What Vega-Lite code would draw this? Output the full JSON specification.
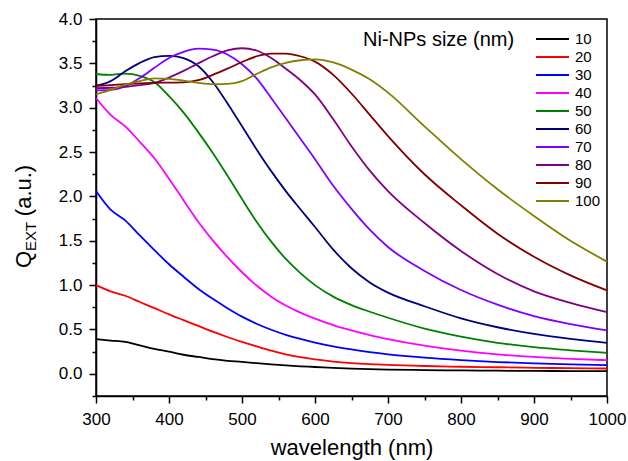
{
  "$schema": "https://vega.github.io/schema/vega-lite/v6.json",
  "width": 511,
  "height": 377,
  "autosize": "none",
  "padding": {"left": 96, "top": 19, "right": 21, "bottom": 65},
  "config": {
    "view": {"stroke": "black", "strokeWidth": 1.5},
    "font": "Liberation Sans",
    "axis": {"domainColor": "black", "tickColor": "black", "labelColor": "black", "titleColor": "black", "domainWidth": 1.5, "tickWidth": 1.5, "grid": false, "labelFont": "Liberation Sans", "titleFont": "Liberation Sans", "titleFontWeight": "normal"},
    "legend": {"labelFont": "Liberation Sans", "titleFont": "Liberation Sans"}
  },
  "datasets": {
    "spectra": [
      {"w":300,"s":10,"q":0.39},{"w":320,"s":10,"q":0.375},{"w":340,"s":10,"q":0.36},{"w":360,"s":10,"q":0.32},{"w":380,"s":10,"q":0.28},{"w":400,"s":10,"q":0.25},{"w":420,"s":10,"q":0.215},{"w":440,"s":10,"q":0.19},{"w":460,"s":10,"q":0.165},{"w":480,"s":10,"q":0.147},{"w":500,"s":10,"q":0.135},{"w":520,"s":10,"q":0.12},{"w":540,"s":10,"q":0.107},{"w":560,"s":10,"q":0.095},{"w":580,"s":10,"q":0.085},{"w":600,"s":10,"q":0.077},{"w":625,"s":10,"q":0.066},{"w":650,"s":10,"q":0.058},{"w":675,"s":10,"q":0.052},{"w":700,"s":10,"q":0.048},{"w":750,"s":10,"q":0.042},{"w":800,"s":10,"q":0.038},{"w":850,"s":10,"q":0.035},{"w":900,"s":10,"q":0.033},{"w":950,"s":10,"q":0.031},{"w":1000,"s":10,"q":0.03},
      {"w":300,"s":20,"q":1.0},{"w":320,"s":20,"q":0.93},{"w":340,"s":20,"q":0.88},{"w":360,"s":20,"q":0.81},{"w":380,"s":20,"q":0.74},{"w":400,"s":20,"q":0.67},{"w":420,"s":20,"q":0.605},{"w":440,"s":20,"q":0.54},{"w":460,"s":20,"q":0.475},{"w":480,"s":20,"q":0.415},{"w":500,"s":20,"q":0.36},{"w":520,"s":20,"q":0.31},{"w":540,"s":20,"q":0.262},{"w":560,"s":20,"q":0.22},{"w":580,"s":20,"q":0.187},{"w":600,"s":20,"q":0.162},{"w":625,"s":20,"q":0.138},{"w":650,"s":20,"q":0.121},{"w":675,"s":20,"q":0.109},{"w":700,"s":20,"q":0.1},{"w":750,"s":20,"q":0.088},{"w":800,"s":20,"q":0.08},{"w":850,"s":20,"q":0.074},{"w":900,"s":20,"q":0.068},{"w":950,"s":20,"q":0.064},{"w":1000,"s":20,"q":0.06},
      {"w":300,"s":30,"q":2.06},{"w":320,"s":30,"q":1.85},{"w":340,"s":30,"q":1.73},{"w":360,"s":30,"q":1.56},{"w":380,"s":30,"q":1.395},{"w":400,"s":30,"q":1.235},{"w":420,"s":30,"q":1.095},{"w":440,"s":30,"q":0.96},{"w":460,"s":30,"q":0.845},{"w":480,"s":30,"q":0.74},{"w":500,"s":30,"q":0.645},{"w":520,"s":30,"q":0.565},{"w":540,"s":30,"q":0.497},{"w":560,"s":30,"q":0.44},{"w":580,"s":30,"q":0.393},{"w":600,"s":30,"q":0.353},{"w":625,"s":30,"q":0.31},{"w":650,"s":30,"q":0.275},{"w":675,"s":30,"q":0.245},{"w":700,"s":30,"q":0.22},{"w":750,"s":30,"q":0.183},{"w":800,"s":30,"q":0.155},{"w":850,"s":30,"q":0.133},{"w":900,"s":30,"q":0.117},{"w":950,"s":30,"q":0.106},{"w":1000,"s":30,"q":0.097},
      {"w":300,"s":40,"q":3.11},{"w":320,"s":40,"q":2.92},{"w":340,"s":40,"q":2.79},{"w":360,"s":40,"q":2.615},{"w":380,"s":40,"q":2.43},{"w":400,"s":40,"q":2.2},{"w":420,"s":40,"q":1.955},{"w":440,"s":40,"q":1.715},{"w":460,"s":40,"q":1.505},{"w":480,"s":40,"q":1.315},{"w":500,"s":40,"q":1.145},{"w":520,"s":40,"q":0.995},{"w":540,"s":40,"q":0.87},{"w":560,"s":40,"q":0.77},{"w":580,"s":40,"q":0.69},{"w":600,"s":40,"q":0.622},{"w":625,"s":40,"q":0.55},{"w":650,"s":40,"q":0.49},{"w":675,"s":40,"q":0.437},{"w":700,"s":40,"q":0.392},{"w":750,"s":40,"q":0.318},{"w":800,"s":40,"q":0.262},{"w":850,"s":40,"q":0.22},{"w":900,"s":40,"q":0.19},{"w":950,"s":40,"q":0.169},{"w":1000,"s":40,"q":0.154},
      {"w":300,"s":50,"q":3.38},{"w":320,"s":50,"q":3.37},{"w":340,"s":50,"q":3.385},{"w":360,"s":50,"q":3.36},{"w":380,"s":50,"q":3.29},{"w":400,"s":50,"q":3.13},{"w":420,"s":50,"q":2.945},{"w":440,"s":50,"q":2.725},{"w":460,"s":50,"q":2.49},{"w":480,"s":50,"q":2.235},{"w":500,"s":50,"q":1.97},{"w":520,"s":50,"q":1.715},{"w":540,"s":50,"q":1.49},{"w":560,"s":50,"q":1.295},{"w":580,"s":50,"q":1.135},{"w":600,"s":50,"q":1.0},{"w":625,"s":50,"q":0.87},{"w":650,"s":50,"q":0.775},{"w":675,"s":50,"q":0.7},{"w":700,"s":50,"q":0.632},{"w":750,"s":50,"q":0.51},{"w":800,"s":50,"q":0.42},{"w":850,"s":50,"q":0.35},{"w":900,"s":50,"q":0.3},{"w":950,"s":50,"q":0.265},{"w":1000,"s":50,"q":0.237},
      {"w":300,"s":60,"q":3.245},{"w":320,"s":60,"q":3.3},{"w":340,"s":60,"q":3.41},{"w":360,"s":60,"q":3.505},{"w":380,"s":60,"q":3.57},{"w":400,"s":60,"q":3.585},{"w":420,"s":60,"q":3.56},{"w":440,"s":60,"q":3.47},{"w":460,"s":60,"q":3.29},{"w":480,"s":60,"q":3.05},{"w":500,"s":60,"q":2.79},{"w":520,"s":60,"q":2.53},{"w":540,"s":60,"q":2.285},{"w":560,"s":60,"q":2.06},{"w":580,"s":60,"q":1.855},{"w":600,"s":60,"q":1.655},{"w":625,"s":60,"q":1.4},{"w":650,"s":60,"q":1.19},{"w":675,"s":60,"q":1.03},{"w":700,"s":60,"q":0.915},{"w":750,"s":60,"q":0.762},{"w":800,"s":60,"q":0.625},{"w":850,"s":60,"q":0.525},{"w":900,"s":60,"q":0.45},{"w":950,"s":60,"q":0.395},{"w":1000,"s":60,"q":0.35},
      {"w":300,"s":70,"q":3.195},{"w":320,"s":70,"q":3.2},{"w":340,"s":70,"q":3.24},{"w":360,"s":70,"q":3.335},{"w":380,"s":70,"q":3.45},{"w":400,"s":70,"q":3.56},{"w":420,"s":70,"q":3.63},{"w":440,"s":70,"q":3.665},{"w":460,"s":70,"q":3.655},{"w":480,"s":70,"q":3.6},{"w":500,"s":70,"q":3.49},{"w":520,"s":70,"q":3.33},{"w":540,"s":70,"q":3.11},{"w":560,"s":70,"q":2.88},{"w":580,"s":70,"q":2.65},{"w":600,"s":70,"q":2.42},{"w":625,"s":70,"q":2.12},{"w":650,"s":70,"q":1.86},{"w":675,"s":70,"q":1.625},{"w":700,"s":70,"q":1.43},{"w":750,"s":70,"q":1.16},{"w":800,"s":70,"q":0.945},{"w":850,"s":70,"q":0.78},{"w":900,"s":70,"q":0.65},{"w":950,"s":70,"q":0.56},{"w":1000,"s":70,"q":0.49},
      {"w":300,"s":80,"q":3.22},{"w":320,"s":80,"q":3.225},{"w":340,"s":80,"q":3.235},{"w":360,"s":80,"q":3.255},{"w":380,"s":80,"q":3.28},{"w":400,"s":80,"q":3.34},{"w":420,"s":80,"q":3.415},{"w":440,"s":80,"q":3.5},{"w":460,"s":80,"q":3.58},{"w":480,"s":80,"q":3.645},{"w":500,"s":80,"q":3.67},{"w":520,"s":80,"q":3.645},{"w":540,"s":80,"q":3.56},{"w":560,"s":80,"q":3.44},{"w":580,"s":80,"q":3.31},{"w":600,"s":80,"q":3.15},{"w":625,"s":80,"q":2.87},{"w":650,"s":80,"q":2.565},{"w":675,"s":80,"q":2.29},{"w":700,"s":80,"q":2.06},{"w":750,"s":80,"q":1.7},{"w":800,"s":80,"q":1.385},{"w":850,"s":80,"q":1.125},{"w":900,"s":80,"q":0.93},{"w":950,"s":80,"q":0.8},{"w":1000,"s":80,"q":0.695},
      {"w":300,"s":90,"q":3.245},{"w":320,"s":90,"q":3.255},{"w":340,"s":90,"q":3.265},{"w":360,"s":90,"q":3.275},{"w":380,"s":90,"q":3.28},{"w":400,"s":90,"q":3.283},{"w":420,"s":90,"q":3.285},{"w":440,"s":90,"q":3.31},{"w":460,"s":90,"q":3.37},{"w":480,"s":90,"q":3.44},{"w":500,"s":90,"q":3.515},{"w":520,"s":90,"q":3.58},{"w":540,"s":90,"q":3.61},{"w":560,"s":90,"q":3.61},{"w":580,"s":90,"q":3.58},{"w":600,"s":90,"q":3.52},{"w":625,"s":90,"q":3.37},{"w":650,"s":90,"q":3.16},{"w":675,"s":90,"q":2.92},{"w":700,"s":90,"q":2.68},{"w":750,"s":90,"q":2.25},{"w":800,"s":90,"q":1.9},{"w":850,"s":90,"q":1.58},{"w":900,"s":90,"q":1.32},{"w":950,"s":90,"q":1.11},{"w":1000,"s":90,"q":0.94},
      {"w":300,"s":100,"q":3.15},{"w":320,"s":100,"q":3.2},{"w":340,"s":100,"q":3.26},{"w":360,"s":100,"q":3.3},{"w":380,"s":100,"q":3.33},{"w":400,"s":100,"q":3.325},{"w":420,"s":100,"q":3.305},{"w":440,"s":100,"q":3.28},{"w":460,"s":100,"q":3.265},{"w":480,"s":100,"q":3.268},{"w":500,"s":100,"q":3.3},{"w":520,"s":100,"q":3.38},{"w":540,"s":100,"q":3.455},{"w":560,"s":100,"q":3.505},{"w":580,"s":100,"q":3.535},{"w":600,"s":100,"q":3.545},{"w":625,"s":100,"q":3.51},{"w":650,"s":100,"q":3.43},{"w":675,"s":100,"q":3.32},{"w":700,"s":100,"q":3.17},{"w":750,"s":100,"q":2.79},{"w":800,"s":100,"q":2.42},{"w":850,"s":100,"q":2.08},{"w":900,"s":100,"q":1.78},{"w":950,"s":100,"q":1.5},{"w":1000,"s":100,"q":1.265}
    ]
  },
  "data": {"name": "spectra"},
  "layer": [
    {
      "mark": {"type": "line", "interpolate": "monotone", "strokeWidth": 1.8},
      "encoding": {
        "x": {"field": "w", "type": "quantitative", "scale": {"domain": [300, 1000], "nice": false, "zero": false},
          "axis": {"orient": "bottom", "values": [300, 400, 500, 600, 700, 800, 900, 1000], "format": "d", "ticks": true, "tickSize": 7, "labelPadding": 8, "labelFontSize": 17, "title": "wavelength (nm)", "titleFontSize": 22, "titlePadding": 10, "labelFlush": false}},
        "y": {"field": "q", "type": "quantitative", "scale": {"domain": [-0.25, 4.0], "nice": false, "zero": false},
          "axis": {"orient": "left", "values": [0, 0.5, 1, 1.5, 2, 2.5, 3, 3.5, 4], "format": ".1f", "ticks": true, "tickSize": 7, "labelPadding": 7, "labelFontSize": 17, "labelFlush": false, "title": "Q", "titleFontSize": 22, "titleAngle": -90, "titleAlign": "center", "titleBaseline": "alphabetic", "titleX": -66, "titleY": 240}},
        "color": {"field": "s", "type": "nominal",
          "scale": {"domain": [10, 20, 30, 40, 50, 60, 70, 80, 90, 100], "range": ["#000000", "#ff0000", "#0000ff", "#ff00ff", "#008000", "#000080", "#8000ff", "#800080", "#800000", "#808000"]},
          "legend": {"title": "Ni-NPs size (nm)", "orient": "none", "legendX": 267, "legendY": 11, "padding": 0, "titleOrient": "left", "titleAngle": 0, "titleAnchor": "start", "titleBaseline": "top", "titleFontSize": 20, "titleFontWeight": "normal", "titleColor": "black", "titlePadding": 20, "labelFontSize": 15, "labelColor": "black", "labelOffset": 5, "symbolType": "stroke", "symbolSize": 1089, "symbolStrokeWidth": 2, "clipHeight": 18, "rowPadding": 0}}
      }
    },
    {
      "mark": {"type": "point", "opacity": 0},
      "encoding": {
        "x": {"field": "w", "type": "quantitative", "scale": {"domain": [300, 1000], "nice": false, "zero": false},
          "axis": {"orient": "bottom", "values": [350, 450, 550, 650, 750, 850, 950], "ticks": true, "tickSize": 4, "labels": false, "domain": false, "title": null}},
        "y": {"field": "q", "type": "quantitative", "scale": {"domain": [-0.25, 4.0], "nice": false, "zero": false},
          "axis": {"orient": "left", "values": [-0.25, 0.25, 0.75, 1.25, 1.75, 2.25, 2.75, 3.25, 3.75], "ticks": true, "tickSize": 4, "labels": false, "domain": false, "title": "EXT", "titleFontSize": 15, "titleAngle": -90, "titleAlign": "center", "titleBaseline": "alphabetic", "titleX": -61, "titleY": 217}}
      }
    },
    {
      "mark": {"type": "point", "opacity": 0},
      "encoding": {
        "x": {"field": "w", "type": "quantitative", "scale": {"domain": [300, 1000], "nice": false, "zero": false}, "axis": null},
        "y": {"field": "q", "type": "quantitative", "scale": {"domain": [-0.25, 4.0], "nice": false, "zero": false},
          "axis": {"orient": "left", "ticks": false, "labels": false, "domain": false, "title": "(a.u.)", "titleFontSize": 22, "titleAngle": -90, "titleAlign": "center", "titleBaseline": "alphabetic", "titleX": -66, "titleY": 171}}
      }
    }
  ],
  "resolve": {"axis": {"x": "independent", "y": "independent"}}
}
